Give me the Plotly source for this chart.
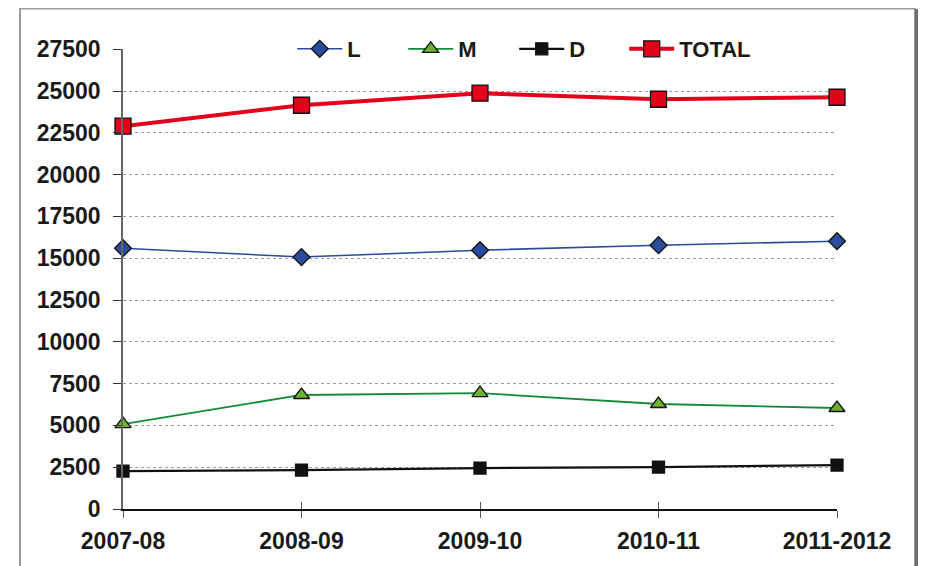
import plotly.graph_objects as go

years = ["2007-08", "2008-09", "2009-10", "2010-11", "2011-2012"]
l_vals = [15600, 15070, 15480, 15780, 16020]
m_vals = [5080, 6820, 6930, 6280, 6040]
d_vals = [2270, 2330, 2450, 2510, 2630]
total_vals = [22900, 24150, 24870, 24510, 24630]
y_ticks = list(range(0, 27501, 2500))

FONT = "Liberation Sans, Arial, sans-serif"
TXT = "#1a1a1a"

fig = go.Figure()

# series: (name, values, line colour, line width, marker symbol, marker colour, marker size, legend)
series = [
    ("L", l_vals, "#2B4C9B", 1.6, "diamond", "#2B4C9B", 13, "legend"),
    ("M", m_vals, "#138A36", 1.8, "triangle-up", "#6DB12E", 14, "legend"),
    ("D", d_vals, "#111111", 2.2, "square", "#111111", 12, "legend"),
    ("TOTAL", total_vals, "#E3001B", 4, "square", "#E3001B", 16, "legend2"),
]
for name, vals, lc, lw, sym, mc, ms, lg in series:
    fig.add_trace(go.Scatter(
        x=years, y=vals, name=name, mode="lines+markers", legend=lg,
        cliponaxis=False,
        line=dict(color=lc, width=lw),
        marker=dict(symbol=sym, color=mc, size=ms,
                    line=dict(color="#111111", width=1.3)),
    ))

# second x axis only to draw the inner half of the crossing ticks
fig.add_trace(go.Scatter(x=years, y=[None] * 5, xaxis="x2", showlegend=False,
                         hoverinfo="skip"))

legend_font = dict(family=FONT, size=22, color=TXT, weight="bold")
tick_font = dict(family=FONT, size=23, color=TXT, weight="bold")

fig.update_layout(
    width=918, height=558,
    margin=dict(l=115, r=89, t=41, b=57, autoexpand=False),
    paper_bgcolor="white", plot_bgcolor="white",
    font=dict(family=FONT, size=20, color=TXT, weight="bold"),
    showlegend=True,
    legend=dict(orientation="h", x=0.237, y=1.0, xanchor="left", yanchor="middle",
                bgcolor="rgba(0,0,0,0)", font=legend_font,
                itemwidth=45, entrywidth=51, tracegroupgap=0),
    legend2=dict(orientation="h", x=0.702, y=1.0, xanchor="left", yanchor="middle",
                 bgcolor="rgba(0,0,0,0)", font=legend_font,
                 itemwidth=45, tracegroupgap=0),
    xaxis=dict(
        type="category", range=[0, 4], showgrid=False,
        showline=True, linecolor="#111111", linewidth=1.5,
        ticks="outside", ticklen=7, tickcolor="#555555", tickwidth=1.2,
        tickfont=tick_font, ticklabelstandoff=4,
    ),
    xaxis2=dict(
        type="category", range=[0, 4], overlaying="x", side="bottom",
        ticks="inside", ticklen=7, tickcolor="#555555", tickwidth=1.2,
        showticklabels=False, showgrid=False, showline=False,
    ),
    yaxis=dict(
        range=[0, 27515], tickvals=y_ticks, tickformat="d",
        showgrid=True, gridcolor="#999999", gridwidth=1, griddash="dot",
        showline=True, linecolor="#666666", linewidth=1.5,
        ticks="outside", ticklen=8, tickcolor="#333333", tickwidth=1.2,
        tickfont=tick_font, ticklabelstandoff=8, zeroline=False,
    ),
)

# white band behind the legend, hiding the top gridline there
fig.add_shape(type="rect", xref="paper", yref="paper",
              x0=0.182, x1=0.959, y0=1 - 9 / 460, y1=1 + 9 / 460,
              line=dict(width=0), fillcolor="white", layer="above")

# chart frame with a dark right edge
fig.add_shape(type="rect", xref="paper", yref="paper",
              x0=-103 / 714, x1=1 + 78 / 714, y0=-0.2, y1=1 + 40.5 / 460,
              line=dict(color="#999999", width=2), layer="below")
fig.add_shape(type="rect", xref="paper", yref="paper",
              x0=1 + 78 / 714, x1=1 + 82 / 714, y0=-0.2, y1=1 + 40 / 460,
              line=dict(width=0), fillcolor="#6e6e6e", layer="below")
fig.add_shape(type="rect", xref="paper", yref="paper",
              x0=1 + 82 / 714, x1=1 + 89 / 714, y0=-0.2, y1=1 + 38 / 460,
              line=dict(width=0), fillcolor="#b5b5b5", layer="below")

fig.write_html("out.html")
